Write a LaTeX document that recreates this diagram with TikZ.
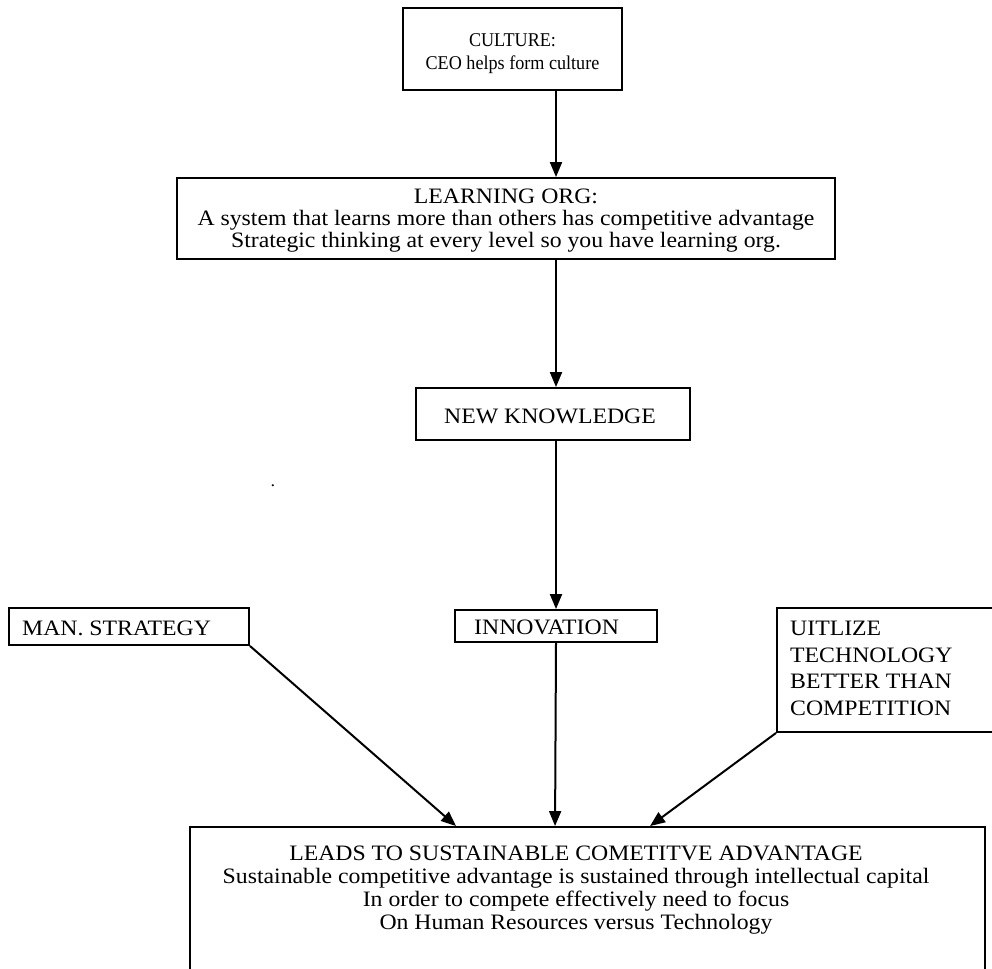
\documentclass[tikz,border=0pt]{standalone}
\usepackage{fontspec}
\setmainfont[FakeStretch=1.08]{Liberation Serif}
\newfontfamily\culturefont[FakeStretch=0.93]{Liberation Serif}
\usetikzlibrary{arrows.meta}
\begin{document}
\begin{tikzpicture}[x=1pt,y=-1pt,
  box/.style={draw, line width=1.9pt, inner sep=0pt},
  txt/.style={inner sep=0pt, align=center, font=\fontsize{22}{22}\selectfont},
  ltxt/.style={inner sep=0pt, align=left, font=\fontsize{22}{26.5}\selectfont, anchor=north west},
  conn/.style={line width=2pt, -{Triangle[length=15pt,width=12pt]}}]
\useasboundingbox (0,0) rectangle (992,968);
\coordinate (ax) at (556,0);
% boxes
\node[box, minimum width=219pt, minimum height=82pt] (cult) at (512.5,49) {};
\node[txt, font=\culturefont\fontsize{19.5}{23}\selectfont] (culttxt) at (512.5,54) {CULTURE:\\CEO helps form culture};
\node[box, minimum width=658pt, minimum height=81pt] (learn) at (506,218.5) {};
\node[txt] (learntxt) at (506,221) {LEARNING ORG:\\A system that learns more than others has competitive advantage\\Strategic thinking at every level so you have learning org.};
\node[box, minimum width=274pt, minimum height=52pt] (newk) at (553,414) {};
\node[txt] (newktxt) at (550,416) {NEW KNOWLEDGE};
\node[box, minimum width=202pt, minimum height=32pt] (innov) at (556,626) {};
\node[txt, anchor=west] (innovtxt) at (474,627) {INNOVATION};
\node[box, minimum width=240pt, minimum height=37pt] (man) at (129,626.5) {};
\node[txt, anchor=west] (mantxt) at (22,628) {MAN. STRATEGY};
\node[box, minimum width=230pt, minimum height=124pt] (util) at (892,670) {};
\node[ltxt] (utiltxt) at (790,621) {UITLIZE\\TECHNOLOGY\\BETTER THAN\\COMPETITION};
\node[box, minimum width=795pt, minimum height=160pt] (lead) at (587.5,907) {};
\node[txt, font=\fontsize{22}{23}\selectfont] (leadtxt) at (576,890) {LEADS TO SUSTAINABLE COMETITVE ADVANTAGE\\Sustainable competitive advantage is sustained through intellectual capital\\In order to compete effectively need to focus\\On Human Resources versus Technology};
\node[inner sep=0pt, font=\fontsize{17}{20}\selectfont] (dot) at (273,486) {.};
% connectors
\draw[conn] (cult.south -| ax) -- (learn.north -| ax);
\draw[conn] (learn.south -| ax) -- (newk.north -| ax);
\draw[conn] (newk.south -| ax) -- (innov.north -| ax);
\draw[conn] (innov.south) -- ([xshift=366pt]lead.north west);
\draw[conn] (man.south east) -- ([xshift=267pt]lead.north west);
\draw[conn] (util.south west) -- ([xshift=461pt]lead.north west);
\end{tikzpicture}
\end{document}
